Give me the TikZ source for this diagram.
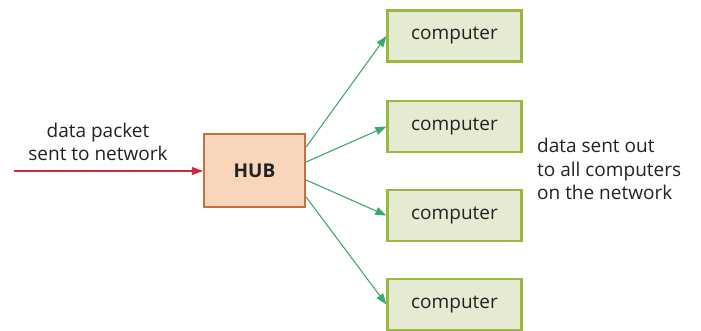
\documentclass[tikz,border=0pt]{standalone}
\usepackage{fontspec}
\setmainfont{Open Sans}
\usetikzlibrary{arrows.meta}
\definecolor{hubfill}{HTML}{F9D5BC}
\definecolor{hubdraw}{HTML}{C8703A}
\definecolor{compfill}{HTML}{E5EAD2}
\definecolor{compdraw}{HTML}{9BB83E}
\definecolor{arrgreen}{HTML}{3DAA6A}
\definecolor{arrred}{HTML}{D0283C}
\definecolor{txt}{HTML}{222222}
\begin{document}
\begin{tikzpicture}[x=1pt,y=-1pt,
  hubbox/.style={draw=hubdraw,fill=hubfill,line width=2.2pt,minimum width=101pt,minimum height=73pt,inner sep=0pt,font=\fontsize{19}{23}\selectfont\bfseries,text=txt},
  compbox/.style={draw=compdraw,fill=compfill,line width=2.2pt,minimum width=134pt,minimum height=51pt,inner sep=0pt,font=\fontsize{19}{23}\selectfont,text=txt},
  garrow/.style={draw=arrgreen,line width=1.1pt,-{Triangle[length=11pt,width=8pt]}},
  rarrow/.style={draw=arrred,line width=1.1pt,-{Triangle[length=11pt,width=8pt]}},
  lbl/.style={font=\fontsize{19}{23.5}\selectfont,text=txt,inner sep=0pt}]
\useasboundingbox (0,0) rectangle (701,331);
\node[hubbox] (hub) at (254.5,170.5) {HUB};
\node[compbox] (c1) at (454.5,36) {computer};
\node[compbox] (c2) at (454.5,126.5) {computer};
\node[compbox] (c3) at (454.5,215.5) {computer};
\node[compbox] (c4) at (454.5,304.5) {computer};
\coordinate (src) at (14,171);
\draw[rarrow] (src) -- (hub.west |- src);
\draw[garrow] ([yshift=23.5pt]hub.east) -- (c1.west);
\draw[garrow] ([yshift=8.5pt]hub.east) -- (c2.west);
\draw[garrow] ([yshift=-9.5pt]hub.east) -- (c3.west);
\draw[garrow] ([yshift=-26.5pt]hub.east) -- (c4.west);
\node[lbl,align=center] (in) at (98,142) {data packet\\sent to network};
\node[lbl,align=left,anchor=west] (out) at (537,169) {data sent out\\to all computers\\on the network};
\end{tikzpicture}
\end{document}
